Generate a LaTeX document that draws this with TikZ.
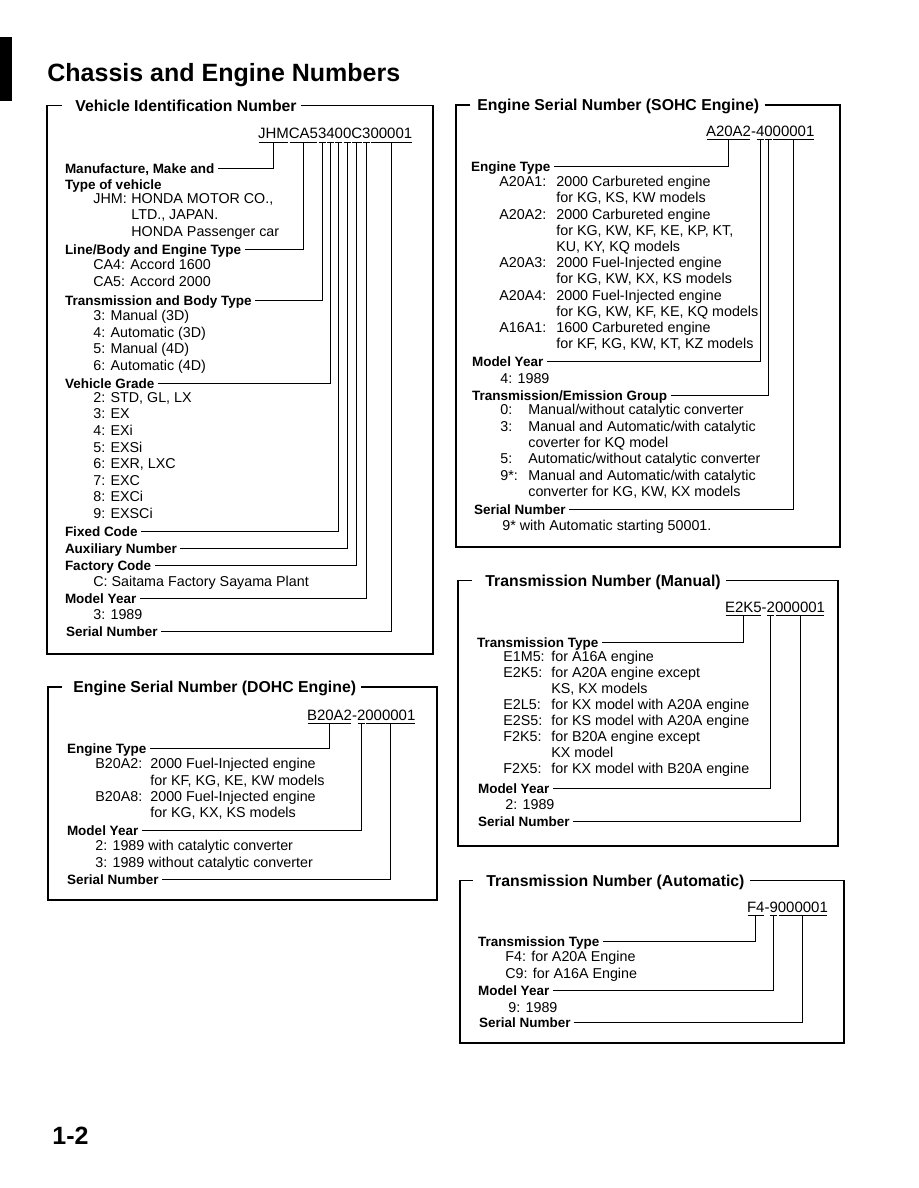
\documentclass[tikz,border=0pt]{standalone}
\usepackage{fontspec}
\setmainfont{Liberation Sans}
\tikzset{every picture/.style={line width=0.75pt}}
\tikzset{
  frame/.style={line width=1.1pt},
  link/.style={line width=0.8pt, shorten <=3.5pt},
  uline/.style={line width=0.8pt, shorten <=0.7pt, shorten >=0.7pt},
  ptitle/.style={anchor=west, inner sep=0pt, text height=11.2pt, text depth=0pt,
    font=\bfseries\fontsize{15.8}{18}\selectfont},
  code/.style={anchor=base west, inner xsep=0pt, inner ysep=3.5pt, outer sep=0pt,
    font=\fontsize{15}{18}\selectfont},
  lbl/.style={anchor=base west, inner sep=0pt, outer sep=0pt, text height=9.5pt,
    text depth=0pt, font=\bfseries\fontsize{13.5}{16}\selectfont},
  item/.style={anchor=north west, yshift=11pt, inner sep=0pt, align=left,
    font=\fontsize{14.3}{#1}\selectfont, execute at begin node={\rule{0pt}{11pt}}},
  item/.default=16.5
}
\newcommand{\keycol}[2]{\makebox[#1][l]{#2}}

\begin{document}
\begin{tikzpicture}[x=1pt, y=-1pt]
    \useasboundingbox (0,0) rectangle (918,1188);

    % page header
    \fill (0,37) rectangle (12,101);
    \node[anchor=base west, inner sep=0pt, font=\bfseries\fontsize{25}{30}\selectfont]
        (title) at (47,82) {Chassis and Engine Numbers};
    \node[anchor=base west, inner sep=0pt, font=\bfseries\fontsize{25}{30}\selectfont]
        (pageno) at (52,1144) {1-2};

    % Vehicle Identification Number
    \node[ptitle] (vint) at (75,105.5) {Vehicle Identification Number};
    \draw[frame] ([xshift=4pt]vint.east) -| (433,654) -| (47,105.5) -- ++(15,0);
    \node[code] (v1) at (258,139) {JHM};
    \node[code] (v2) at (v1.base east) {CA5};
    \node[code] (v3) at (v2.base east) {3};
    \node[code] (v4) at (v3.base east) {4};
    \node[code] (v5) at (v4.base east) {0};
    \node[code] (v6) at (v5.base east) {0};
    \node[code] (v7) at (v6.base east) {C};
    \node[code] (v8) at (v7.base east) {3};
    \node[code] (v9) at (v8.base east) {00001};
    \foreach \i in {1,...,9}
        \draw[uline] (v\i.south west) -- (v\i.south east);

    \node[lbl] (vmake) at (65,173) {Manufacture, Make and};
    \node[lbl] (vtype) at (65,189) {Type of vehicle};
    \node[item] (vjhm) at (93,204) {\keycol{38pt}{JHM:}HONDA MOTOR CO.,\\
        \keycol{38pt}{}LTD., JAPAN.\\ \keycol{38pt}{}HONDA Passenger car};
    \node[lbl] (vline) at (65,254) {Line/Body and Engine Type};
    \node[item] (vca) at (93,270) {CA4: Accord 1600\\CA5: Accord 2000};
    \node[lbl] (vtrans) at (65,305) {Transmission and Body Type};
    \node[item=16.6] (vtr) at (93,321) {3: Manual (3D)\\4: Automatic (3D)\\
        5: Manual (4D)\\6: Automatic (4D)};
    \node[lbl] (vgrade) at (65,388) {Vehicle Grade};
    \node[item=16.6] (vgr) at (93,403) {2: STD, GL, LX\\3: EX\\4: EXi\\5: EXSi\\
        6: EXR, LXC\\7: EXC\\8: EXCi\\9: EXSCi};
    \node[lbl] (vfixed) at (65,536) {Fixed Code};
    \node[lbl] (vaux) at (65,553) {Auxiliary Number};
    \node[lbl] (vfact) at (65,570) {Factory Code};
    \node[item] (vsay) at (93,586) {C: Saitama Factory Sayama Plant};
    \node[lbl] (vyear) at (65,603) {Model Year};
    \node[item] (v89) at (93,619) {3: 1989};
    \node[lbl] (vserial) at (66,636) {Serial Number};

    \draw[link] (vmake.east) -| (v1.south);
    \draw[link] (vline.east) -| (v2.south);
    \draw[link] (vtrans.east) -| (v3.south);
    \draw[link] (vgrade.east) -| (v4.south);
    \draw[link] (vfixed.east) -| (v5.south);
    \draw[link] (vaux.east) -| (v6.south);
    \draw[link] (vfact.east) -| (v7.south);
    \draw[link] (vyear.east) -| (v8.south);
    \draw[link] (vserial.east) -| (v9.south);

    % Engine Serial Number (DOHC)
    \node[ptitle] (dt) at (73,687) {Engine Serial Number (DOHC Engine)};
    \draw[frame] ([xshift=5pt]dt.east) -| (437,900) -| (48,687) -- ++(14,0);
    \node[code] (d1) at (307,720) {B20A2};
    \node[code] (dh) at (d1.base east) {-};
    \node[code] (d2) at (dh.base east) {2};
    \node[code] (d3) at (d2.base east) {000001};
    \foreach \s in {d1,d2,d3}
        \draw[uline] (\s.south west) -- (\s.south east);

    \node[lbl] (dtype) at (67,753) {Engine Type};
    \node[item=16.3] (dtypes) at (95,769) {\keycol{55pt}{B20A2:}2000 Fuel-Injected engine\\
        \keycol{55pt}{}for KF, KG, KE, KW models\\
        \keycol{55pt}{B20A8:}2000 Fuel-Injected engine\\
        \keycol{55pt}{}for KG, KX, KS models};
    \node[lbl] (dyear) at (67,835) {Model Year};
    \node[item] (dyears) at (95,851) {2: 1989 with catalytic converter\\
        3: 1989 without catalytic converter};
    \node[lbl] (dserial) at (67,884) {Serial Number};

    \draw[link] (dtype.east) -| (d1.south);
    \draw[link] (dyear.east) -| (d2.south);
    \draw[link] (dserial.east) -| (d3.south);

    % Engine Serial Number (SOHC)
    \node[ptitle] (st) at (477,105) {Engine Serial Number (SOHC Engine)};
    \draw[frame] ([xshift=5pt]st.east) -| (840,547) -| (456,105) -- ++(14,0);
    \node[code] (s1) at (706,136) {A20A2};
    \node[code] (sh) at (s1.base east) {-};
    \node[code] (s2) at (sh.base east) {4};
    \node[code] (s3) at (s2.base east) {0};
    \node[code] (s4) at (s3.base east) {00001};
    \foreach \s in {s1,s2,s3,s4}
        \draw[uline] (\s.south west) -- (\s.south east);

    \node[lbl] (stype) at (471,171) {Engine Type};
    \node[item=16.2] (stypes) at (499,187) {\keycol{57pt}{A20A1:}2000 Carbureted engine\\
        \keycol{57pt}{}for KG, KS, KW models\\
        \keycol{57pt}{A20A2:}2000 Carbureted engine\\
        \keycol{57pt}{}for KG, KW, KF, KE, KP, KT,\\
        \keycol{57pt}{}KU, KY, KQ models\\
        \keycol{57pt}{A20A3:}2000 Fuel-Injected engine\\
        \keycol{57pt}{}for KG, KW, KX, KS models\\
        \keycol{57pt}{A20A4:}2000 Fuel-Injected engine\\
        \keycol{57pt}{}for KG, KW, KF, KE, KQ models\\
        \keycol{57pt}{A16A1:}1600 Carbureted engine\\
        \keycol{57pt}{}for KF, KG, KW, KT, KZ models};
    \node[lbl] (syear) at (472,366) {Model Year};
    \node[item] (syears) at (500,383) {4: 1989};
    \node[lbl] (sgroup) at (472,400) {Transmission/Emission Group};
    \node[item=16.4] (sgroups) at (500,415) {\keycol{28pt}{0:}Manual/without catalytic converter\\
        \keycol{28pt}{3:}Manual and Automatic/with catalytic\\
        \keycol{28pt}{}coverter for KQ model\\
        \keycol{28pt}{5:}Automatic/without catalytic converter\\
        \keycol{28pt}{9*:}Manual and Automatic/with catalytic\\
        \keycol{28pt}{}converter for KG, KW, KX models};
    \node[lbl] (sserial) at (474,514) {Serial Number};
    \node[item] (snote) at (502,530) {9* with Automatic starting 50001.};

    \draw[link] (stype.east) -| (s1.south);
    \draw[link] (syear.east) -| (s2.south);
    \draw[link] (sgroup.east) -| (s3.south);
    \draw[link] (sserial.east) -| (s4.south);

    % Transmission Number (Manual)
    \node[ptitle] (mt) at (485,580.5) {Transmission Number (Manual)};
    \draw[frame] ([xshift=5pt]mt.east) -| (838,846) -| (458,580.5) -- ++(14,0);
    \node[code] (m1) at (725,612) {E2K5};
    \node[code] (mh) at (m1.base east) {-};
    \node[code] (m2) at (mh.base east) {2};
    \node[code] (m3) at (m2.base east) {000001};
    \foreach \s in {m1,m2,m3}
        \draw[uline] (\s.south west) -- (\s.south east);

    \node[lbl] (mtype) at (477,647) {Transmission Type};
    \node[item=15.9] (mtypes) at (503,662) {\keycol{48pt}{E1M5:}for A16A engine\\
        \keycol{48pt}{E2K5:}for A20A engine except\\
        \keycol{48pt}{}KS, KX models\\
        \keycol{48pt}{E2L5:}for KX model with A20A engine\\
        \keycol{48pt}{E2S5:}for KS model with A20A engine\\
        \keycol{48pt}{F2K5:}for B20A engine except\\
        \keycol{48pt}{}KX model\\
        \keycol{48pt}{F2X5:}for KX model with B20A engine};
    \node[lbl] (myear) at (478,793) {Model Year};
    \node[item] (myears) at (505,809) {2: 1989};
    \node[lbl] (mserial) at (478,826) {Serial Number};

    \draw[link] (mtype.east) -| (m1.south);
    \draw[link] (myear.east) -| (m2.south);
    \draw[link] (mserial.east) -| (m3.south);

    % Transmission Number (Automatic)
    \node[ptitle] (autot) at (486,880.5) {Transmission Number (Automatic)};
    \draw[frame] ([xshift=5pt]autot.east) -| (844,1043) -| (460,880.5) -- ++(13,0);
    \node[code] (a1) at (747,912) {F4};
    \node[code] (ah) at (a1.base east) {-};
    \node[code] (a2) at (ah.base east) {9};
    \node[code] (a3) at (a2.base east) {000001};
    \foreach \s in {a1,a2,a3}
        \draw[uline] (\s.south west) -- (\s.south east);

    \node[lbl] (atype) at (478,946) {Transmission Type};
    \node[item] (atypes) at (505,962) {F4: for A20A Engine\\C9: for A16A Engine};
    \node[lbl] (ayear) at (478,995) {Model Year};
    \node[item] (ayears) at (508,1012) {9: 1989};
    \node[lbl] (aserial) at (479,1027) {Serial Number};

    \draw[link] (atype.east) -| (a1.south);
    \draw[link] (ayear.east) -| (a2.south);
    \draw[link] (aserial.east) -| (a3.south);
\end{tikzpicture}
\end{document}
